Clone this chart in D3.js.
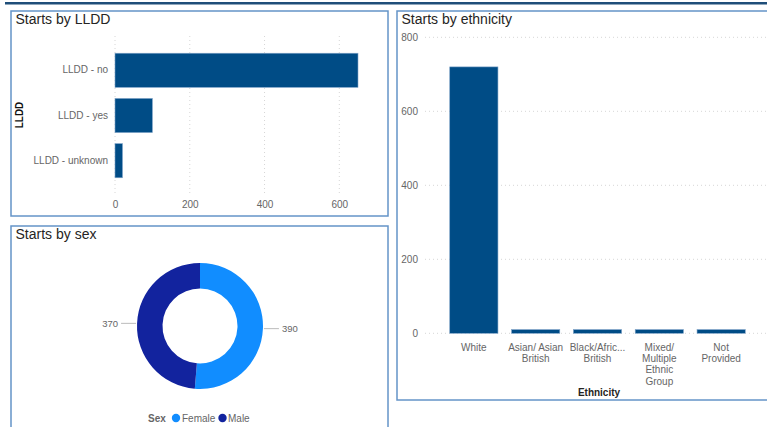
<!DOCTYPE html>
<html><head><meta charset="utf-8">
<script src="https://cdn.jsdelivr.net/npm/d3@7/dist/d3.min.js"></script>
<style>
body{margin:0;background:#fff;}
svg{display:block;font-family:"Liberation Sans",Arial,sans-serif;}
</style></head>
<body><svg id="c" width="767" height="427"></svg>
<script>
// LLDD data
const llddCats = ["LLDD - no", "LLDD - yes", "LLDD - unknown"];
const llddVals = [650, 100, 20];
const llddTicks = [0, 200, 400, 600];
// Sex data
const sexCats = ["Female", "Male"];
const sexVals = [390, 370];
// Ethnicity data
const ethCats = ["White", "Asian/ Asian British", "Black/Afric... British", "Mixed/ Multiple Ethnic Group", "Not Provided"];
const ethLabelLines = [["White"], ["Asian/ Asian", "British"], ["Black/Afric...", "British"], ["Mixed/", "Multiple", "Ethnic", "Group"], ["Not", "Provided"]];
const ethVals = [720, 10, 10, 10, 10];
const ethTicks = [0, 200, 400, 600, 800];

const barColor = "#004C86";
const sexColors = ["#118DFF", "#12239E"];
const tickColor = "#666";
const gridColor = "#d6d6d6";
const borderColor = "#6494c8";

const svg = d3.select("#c");

// top bar line
svg.append("rect").attr("x", 5).attr("y", 2).attr("width", 762).attr("height", 2.5).attr("fill", "#1F4E79");

// panels
function panel(x, y, w, h, title) {
  svg.append("rect").attr("x", x).attr("y", y).attr("width", w).attr("height", h)
    .attr("fill", "#fff").attr("stroke", borderColor).attr("stroke-width", 1.5);
  svg.append("text").attr("x", x + 4.5).attr("y", y + 13).attr("font-size", 14).attr("fill", "#252423").text(title);
}
panel(11, 11, 377, 205, "Starts by LLDD");
panel(11, 226, 377, 220, "Starts by sex");
panel(397, 11, 380, 389, "Starts by ethnicity");

// ---- LLDD horizontal bar chart
{
  const x = d3.scaleLinear().domain([0, 600]).range([115, 339.3]);
  const y = d3.scaleBand().domain(llddCats).range([36.5, 194.5]).paddingInner(0.245).paddingOuter(0.37);
  const g = svg.append("g");
  g.selectAll(".grid").data(llddTicks).join("line")
    .attr("x1", d => x(d)).attr("x2", d => x(d)).attr("y1", 36).attr("y2", 193)
    .attr("stroke", gridColor).attr("stroke-dasharray", "1,3").attr("stroke-width", 1);
  g.selectAll(".bar").data(llddVals).join("rect")
    .attr("x", x(0)).attr("y", (d, i) => y(llddCats[i]))
    .attr("width", d => x(d) - x(0)).attr("height", y.bandwidth())
    .attr("fill", barColor).attr("stroke", "#7fa3c8").attr("stroke-width", 0.6);
  const xa = d3.axisBottom(x).tickValues(llddTicks).tickSize(0).tickPadding(0);
  const xg = g.append("g").attr("transform", "translate(0,201)").call(xa);
  xg.select(".domain").remove();
  xg.selectAll("text").attr("font-size", 10).attr("fill", tickColor).attr("font-family", null);
  const ya = d3.axisLeft(y).tickSize(0).tickPadding(7);
  const yg = g.append("g").attr("transform", "translate(115,0)").call(ya);
  yg.select(".domain").remove();
  yg.selectAll("text").attr("font-size", 10).attr("fill", tickColor).attr("font-family", null);
  g.append("text").attr("transform", "translate(23,115) rotate(-90)").attr("text-anchor", "middle")
    .attr("font-size", 10).attr("font-weight", "bold").attr("fill", "#111").text("LLDD");
}

// ---- Sex donut
{
  const cx = 200, cy = 326, R = 63, r = 37.5;
  const pie = d3.pie().sort(null).value(d => d)(sexVals);
  const arc = d3.arc().innerRadius(r).outerRadius(R);
  const g = svg.append("g").attr("transform", `translate(${cx},${cy})`);
  g.selectAll("path").data(pie).join("path").attr("d", arc).attr("fill", (d, i) => sexColors[i]);
  // labels with leader lines
  pie.forEach((d, i) => {
    const mid = (d.startAngle + d.endAngle) / 2;
    const sx = Math.sin(mid), sy = -Math.cos(mid);
    const p0 = [sx * (R + 1), sy * (R + 1)];
    const side = sx >= 0 ? 1 : -1;
    const p1 = [p0[0] + side * 15, p0[1]];
    g.append("line").attr("x1", p0[0]).attr("y1", p0[1]).attr("x2", p1[0]).attr("y2", p1[1])
      .attr("stroke", "#bbb").attr("stroke-width", 1);
    g.append("text").attr("x", p1[0] + side * 3).attr("y", p1[1]).attr("dy", "0.35em")
      .attr("text-anchor", side > 0 ? "start" : "end").attr("font-size", 9.5).attr("fill", tickColor)
      .text(sexVals[i]);
  });
  // legend
  const lg = svg.append("g").attr("transform", "translate(148,418)");
  lg.append("text").attr("x", 0).attr("y", 0).attr("dy", "0.35em").attr("font-size", 10).attr("font-weight", "bold").attr("fill", tickColor).text("Sex");
  const pos = [[176, 182], [222.5, 228]];
  sexCats.forEach((c, i) => {
    lg.append("circle").attr("cx", pos[i][0] - 148).attr("cy", 0).attr("r", 4.2).attr("fill", sexColors[i]);
    lg.append("text").attr("x", pos[i][1] - 148).attr("y", 0).attr("dy", "0.35em").attr("font-size", 10).attr("fill", tickColor).text(c);
  });
}

// ---- Ethnicity column chart
{
  const y = d3.scaleLinear().domain([0, 800]).range([333.3, 37.3]);
  const x = d3.scaleBand().domain(ethCats).range([425, 770]).paddingInner(0.22).paddingOuter(0.4);
  const g = svg.append("g");
  g.selectAll(".grid").data(ethTicks).join("line")
    .attr("x1", 425).attr("x2", 767).attr("y1", d => y(d)).attr("y2", d => y(d))
    .attr("stroke", gridColor).attr("stroke-dasharray", "1,3").attr("stroke-width", 1);
  g.selectAll(".bar").data(ethVals).join("rect")
    .attr("x", (d, i) => x(ethCats[i])).attr("y", d => y(d))
    .attr("width", x.bandwidth()).attr("height", d => y(0) - y(d))
    .attr("fill", barColor).attr("stroke", "#7fa3c8").attr("stroke-width", 0.6);
  const ya = d3.axisLeft(y).tickValues(ethTicks).tickSize(0).tickPadding(0);
  const yg = g.append("g").attr("transform", "translate(418,0)").call(ya);
  yg.select(".domain").remove();
  yg.selectAll("text").attr("font-size", 10).attr("fill", tickColor).attr("font-family", null);
  ethCats.forEach((c, i) => {
    const t = g.append("text").attr("x", x(c) + x.bandwidth() / 2).attr("y", 351)
      .attr("text-anchor", "middle").attr("font-size", 10).attr("fill", tickColor);
    ethLabelLines[i].forEach((ln, j) => {
      t.append("tspan").attr("x", x(c) + x.bandwidth() / 2).attr("y", 351 + j * 11.2).text(ln);
    });
  });
  g.append("text").attr("x", 599).attr("y", 395.5).attr("text-anchor", "middle")
    .attr("font-size", 10).attr("font-weight", "bold").attr("fill", "#252423").text("Ethnicity");
}
</script></body></html>
